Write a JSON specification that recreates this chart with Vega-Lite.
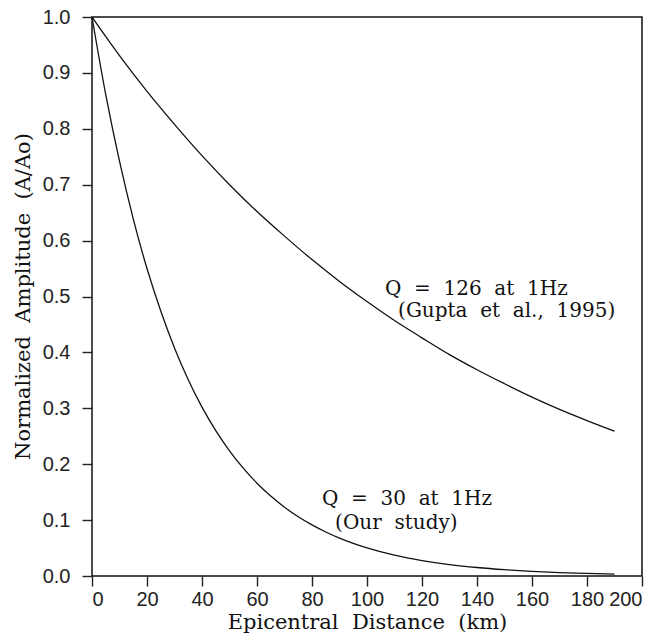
{
  "$schema": "https://vega.github.io/schema/vega-lite/v6.json",
  "width": 550,
  "height": 559,
  "autosize": {"type": "none"},
  "padding": {"left": 92, "top": 17, "right": 19, "bottom": 57},
  "background": "white",
  "config": {
    "view": {"stroke": "#111", "strokeWidth": 1.5},
    "axis": {
      "domain": false,
      "grid": false,
      "ticks": true,
      "tickColor": "#222",
      "tickWidth": 1.4,
      "tickSize": 10,
      "labelFont": "Liberation Sans",
      "labelFontSize": 20,
      "labelColor": "#222",
      "titleFont": "DejaVu Serif",
      "titleFontSize": 21,
      "titleFontWeight": "normal",
      "titleColor": "#111"
    }
  },
  "layer": [
    {
      "data": {
        "values": [
          {"d": 0, "a": 1.0, "s": "Q30"},
          {"d": 5, "a": 0.861, "s": "Q30"},
          {"d": 10, "a": 0.742, "s": "Q30"},
          {"d": 15, "a": 0.639, "s": "Q30"},
          {"d": 20, "a": 0.55, "s": "Q30"},
          {"d": 25, "a": 0.474, "s": "Q30"},
          {"d": 30, "a": 0.408, "s": "Q30"},
          {"d": 35, "a": 0.351, "s": "Q30"},
          {"d": 40, "a": 0.302, "s": "Q30"},
          {"d": 45, "a": 0.26, "s": "Q30"},
          {"d": 50, "a": 0.224, "s": "Q30"},
          {"d": 55, "a": 0.193, "s": "Q30"},
          {"d": 60, "a": 0.166, "s": "Q30"},
          {"d": 65, "a": 0.143, "s": "Q30"},
          {"d": 70, "a": 0.123, "s": "Q30"},
          {"d": 75, "a": 0.106, "s": "Q30"},
          {"d": 80, "a": 0.0914, "s": "Q30"},
          {"d": 85, "a": 0.0787, "s": "Q30"},
          {"d": 90, "a": 0.0678, "s": "Q30"},
          {"d": 95, "a": 0.0584, "s": "Q30"},
          {"d": 100, "a": 0.0503, "s": "Q30"},
          {"d": 110, "a": 0.0373, "s": "Q30"},
          {"d": 120, "a": 0.0277, "s": "Q30"},
          {"d": 130, "a": 0.0205, "s": "Q30"},
          {"d": 140, "a": 0.0152, "s": "Q30"},
          {"d": 150, "a": 0.0113, "s": "Q30"},
          {"d": 160, "a": 0.0084, "s": "Q30"},
          {"d": 170, "a": 0.0062, "s": "Q30"},
          {"d": 180, "a": 0.0046, "s": "Q30"},
          {"d": 190, "a": 0.0034, "s": "Q30"},
          {"d": 0, "a": 1.0, "s": "Q126"},
          {"d": 10, "a": 0.931, "s": "Q126"},
          {"d": 20, "a": 0.867, "s": "Q126"},
          {"d": 30, "a": 0.808, "s": "Q126"},
          {"d": 40, "a": 0.752, "s": "Q126"},
          {"d": 50, "a": 0.7, "s": "Q126"},
          {"d": 60, "a": 0.652, "s": "Q126"},
          {"d": 70, "a": 0.608, "s": "Q126"},
          {"d": 80, "a": 0.566, "s": "Q126"},
          {"d": 90, "a": 0.527, "s": "Q126"},
          {"d": 100, "a": 0.491, "s": "Q126"},
          {"d": 110, "a": 0.457, "s": "Q126"},
          {"d": 120, "a": 0.426, "s": "Q126"},
          {"d": 130, "a": 0.396, "s": "Q126"},
          {"d": 140, "a": 0.369, "s": "Q126"},
          {"d": 150, "a": 0.344, "s": "Q126"},
          {"d": 160, "a": 0.32, "s": "Q126"},
          {"d": 170, "a": 0.298, "s": "Q126"},
          {"d": 180, "a": 0.278, "s": "Q126"},
          {"d": 190, "a": 0.259, "s": "Q126"}
        ]
      },
      "mark": {"type": "line", "strokeWidth": 1.3, "interpolate": "monotone"},
      "encoding": {
        "x": {
          "field": "d", "type": "quantitative",
          "scale": {"domain": [0, 200], "nice": false},
          "axis": {"values": [0, 20, 40, 60, 80, 100, 120, 140, 160, 180, 200], "labelPadding": 3, "title": "Epicentral\u00a0 Distance\u00a0 (km)", "titleY": 46, "titleBaseline": "middle"}
        },
        "y": {
          "field": "a", "type": "quantitative",
          "scale": {"domain": [0, 1], "nice": false},
          "axis": {"values": [0, 0.1, 0.2, 0.3, 0.4, 0.5, 0.6, 0.7, 0.8, 0.9, 1.0], "format": ".1f", "labelPadding": 12, "title": "Normalized\u00a0 Amplitude\u00a0 (A/Ao)", "titleX": -69, "titleY": 279, "titleBaseline": "middle", "titleAngle": -90}
        },
        "detail": {"field": "s"},
        "color": {"value": "#111"}
      }
    },
    {
      "data": {
        "values": [
          {"d": 106.5, "a": 0.514, "t": "Q\u00a0 =\u00a0 126\u00a0 at\u00a0 1Hz"},
          {"d": 111.3, "a": 0.474, "t": "(Gupta\u00a0 et\u00a0 al.,\u00a0 1995)"},
          {"d": 83.6, "a": 0.138, "t": "Q\u00a0 =\u00a0 30\u00a0 at\u00a0 1Hz"},
          {"d": 88.4, "a": 0.095, "t": "(Our\u00a0 study)"}
        ]
      },
      "mark": {"type": "text", "align": "left", "baseline": "middle", "font": "DejaVu Serif", "fontSize": 20, "color": "#111"},
      "encoding": {
        "x": {"field": "d", "type": "quantitative"},
        "y": {"field": "a", "type": "quantitative"},
        "text": {"field": "t"}
      }
    }
  ]
}
